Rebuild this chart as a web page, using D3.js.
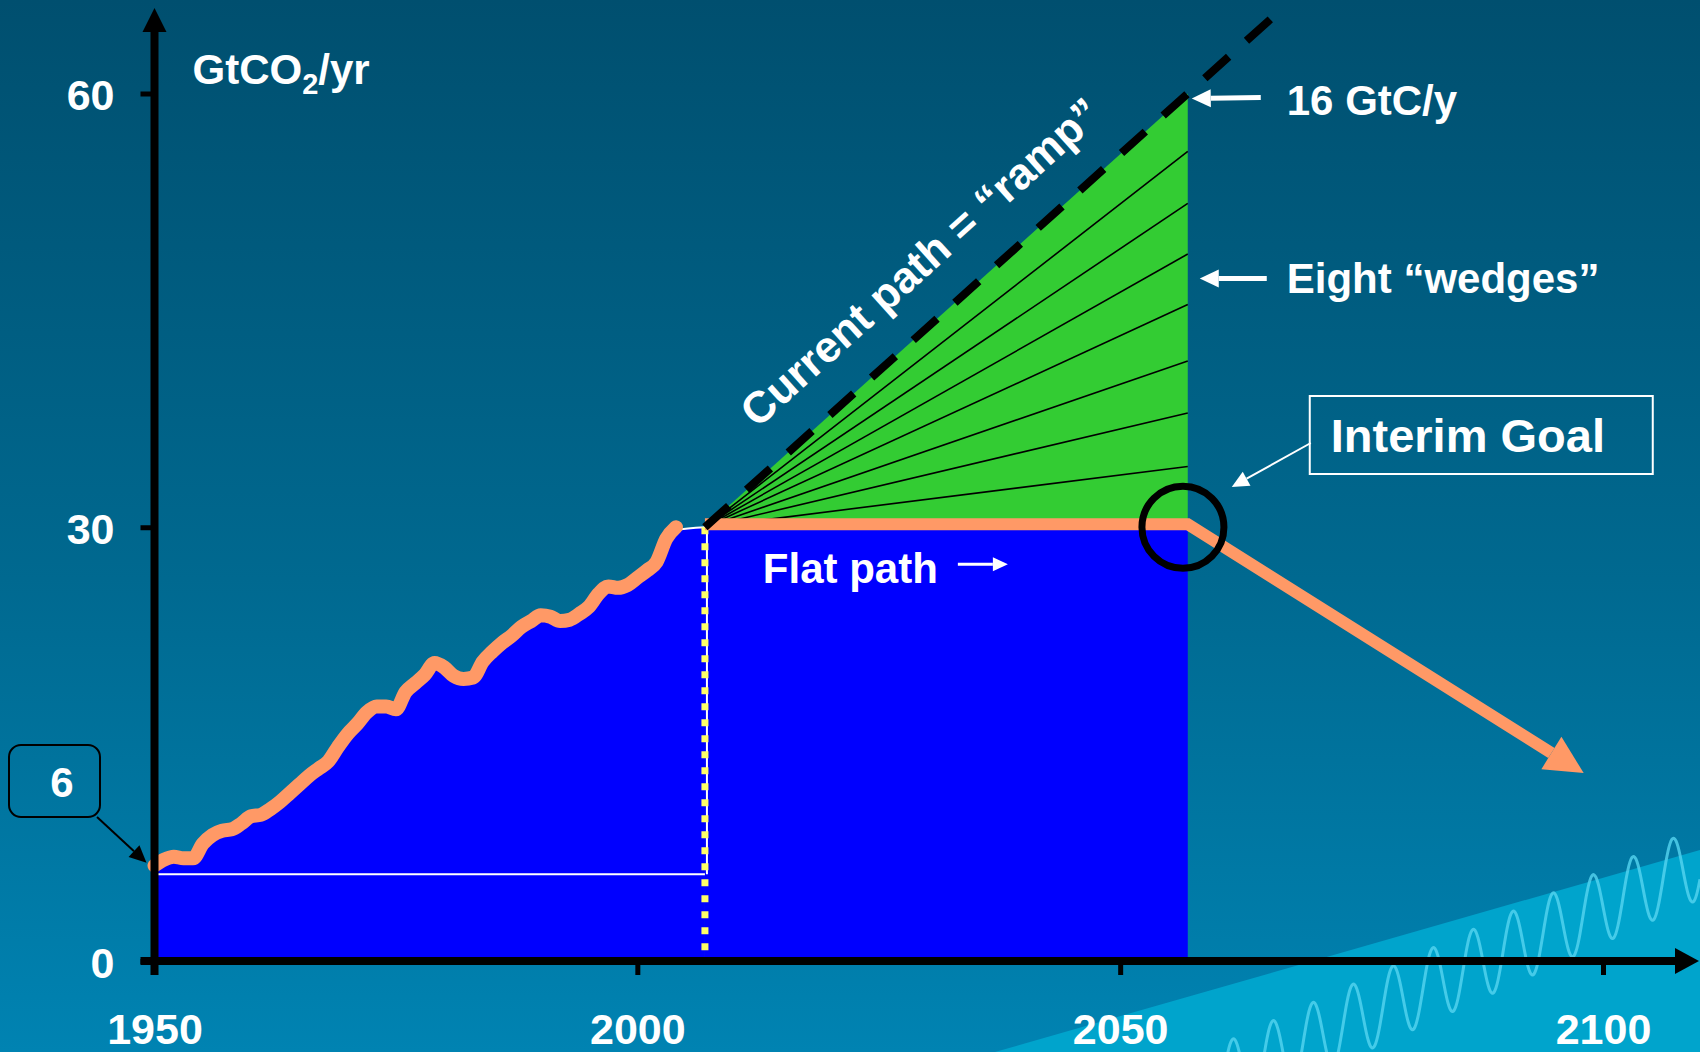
<!DOCTYPE html>

<head>
	<meta charset="utf-8" />
	<style>
		body {
			margin: 0;
			overflow: hidden;
			background-color: #005a7c;
		}

		svg {
			display: block;
			font-family: 'Liberation Sans', Arial, sans-serif;
			font-weight: bold;
		}

		text {
			fill: #fff;
		}
	</style>
</head>

<body>
	<div id="chart-area"></div>

	<script src="https://cdnjs.cloudflare.com/ajax/libs/d3/7.8.5/d3.min.js"></script>

	<script>
		// historical emissions, GtCO2/yr
		var histYears = [
			1950, 1951, 1952, 1953, 1954, 1955, 1956, 1957, 1958, 1959,
			1960, 1961, 1962, 1963, 1964, 1965, 1966, 1967, 1968, 1969,
			1970, 1971, 1972, 1973, 1974, 1975, 1976, 1977, 1978, 1979,
			1980, 1981, 1982, 1983, 1984, 1985, 1986, 1987, 1988, 1989,
			1990, 1991, 1992, 1993, 1994, 1995, 1996, 1997, 1998, 1999,
			2000, 2001, 2002, 2003, 2004,
		];
		var histValues = [
			6.4, 6.8, 7.0, 6.9, 6.9, 7.9, 8.5, 8.8, 8.9, 9.3,
			9.8, 9.9, 10.3, 10.8, 11.4, 12.0, 12.6, 13.1, 13.6, 14.6,
			15.5, 16.2, 17.0, 17.4, 17.4, 17.2, 18.4, 19.0, 19.6, 20.4,
			20.1, 19.5, 19.3, 19.4, 20.5, 21.2, 21.8, 22.3, 22.9, 23.3,
			23.7, 23.6, 23.3, 23.4, 23.8, 24.3, 25.2, 25.7, 25.6, 25.8,
			26.3, 26.8, 27.4, 29.0, 29.8,
		];

		var baseValue = 6;
		var flatYears = [2007, 2057];
		var flatValues = [30, 30];
		var rampYears = [2007, 2066];
		var rampValues = [30, 65.4];
		var wedgeYears = [2007, 2057, 2057];
		var wedgeValues = [30, 60, 30];
		var wedgeLineEnds = [56.0, 52.4, 48.9, 45.4, 41.5, 37.9, 34.2];
		var goalYears = [2057, 2098];
		var goalValues = [30, 13];

		var xTicks = [1950, 2000, 2050, 2100];
		var yTicks = [0, 30, 60];

		var width = 1700,
			height = 1052;

		var x = d3.scaleLinear().domain([1950, 2100]).range([154.5, 1603]);
		var y = d3.scaleLinear().domain([0, 60]).range([961, 93.5]);

		var svg = d3
			.select('#chart-area')
			.append('svg')
			.attr('width', width)
			.attr('height', height);

		var defs = svg.append('defs');
		var bg = defs
			.append('linearGradient')
			.attr('id', 'bg')
			.attr('x1', 0)
			.attr('y1', 0)
			.attr('x2', 0)
			.attr('y2', 1);
		bg.append('stop').attr('offset', '0%').attr('stop-color', '#004f6f');
		bg.append('stop').attr('offset', '55%').attr('stop-color', '#006990');
		bg.append('stop').attr('offset', '100%').attr('stop-color', '#0083b2');

		svg.append('rect')
			.attr('width', width)
			.attr('height', height)
			.attr('fill', 'url(#bg)');

		// template decoration, bottom right
		svg.append('path')
			.attr('d', 'M995,1052L1700,850L1700,1052Z')
			.attr('fill', '#00a4cc');

		var wave = [];
		for (var px = 1150; px <= 1700; px += 2) {
			var cy = 975 - 0.456 * (px - 1453);
			wave.push([px, cy + 37 * Math.sin(((px - 1433) / 40) * 2 * Math.PI - Math.PI / 2)]);
		}
		svg.append('path')
			.attr('d', d3.line().curve(d3.curveBasis)(wave))
			.attr('fill', 'none')
			.attr('stroke', '#55d4f0')
			.attr('stroke-opacity', 0.8)
			.attr('stroke-width', 3);

		var hist = histYears.map((d, i) => ({ year: d, value: histValues[i] }));
		var histEdge = hist.concat([{ year: flatYears[0], value: flatValues[0] }]);

		var line = d3
			.line()
			.x(d => x(d.year))
			.y(d => y(d.value));

		// blue: history
		svg.append('path')
			.datum(histEdge)
			.attr(
				'd',
				d3
					.area()
					.curve(d3.curveMonotoneX)
					.x(d => x(d.year))
					.y0(y(0))
					.y1(d => y(d.value))
			)
			.attr('fill', '#0000ff');

		// blue: flat path
		svg.append('rect')
			.attr('x', x(flatYears[0]))
			.attr('y', y(flatValues[0]))
			.attr('width', x(flatYears[1]) - x(flatYears[0]))
			.attr('height', y(0) - y(flatValues[0]))
			.attr('fill', '#0000ff');

		// green wedges
		svg.append('path')
			.datum(wedgeYears.map((d, i) => ({ year: d, value: wedgeValues[i] })))
			.attr('d', d => line(d) + 'Z')
			.attr('fill', '#33cc33');

		svg.append('g')
			.selectAll('line')
			.data(wedgeLineEnds)
			.join('line')
			.attr('x1', x(wedgeYears[0]))
			.attr('y1', y(wedgeValues[0]))
			.attr('x2', x(wedgeYears[1]))
			.attr('y2', d => y(d))
			.attr('stroke', '#000')
			.attr('stroke-width', 1.6);

		// white outlines
		svg.append('path')
			.datum(histEdge)
			.attr('d', line.curve(d3.curveMonotoneX))
			.attr('fill', 'none')
			.attr('stroke', '#fff')
			.attr('stroke-width', 2);
		line.curve(d3.curveLinear);

		svg.append('line')
			.attr('x1', x(histYears[0]))
			.attr('x2', x(flatYears[0]))
			.attr('y1', y(baseValue))
			.attr('y2', y(baseValue))
			.attr('stroke', '#fff')
			.attr('stroke-width', 2);
		svg.append('line')
			.attr('x1', x(flatYears[0]) + 2)
			.attr('x2', x(flatYears[0]) + 2)
			.attr('y1', y(baseValue))
			.attr('y2', y(flatValues[0]))
			.attr('stroke', '#fff')
			.attr('stroke-width', 2);

		// yellow dotted divider
		svg.append('line')
			.attr('x1', x(flatYears[0]))
			.attr('x2', x(flatYears[0]))
			.attr('y1', y(flatValues[0]))
			.attr('y2', y(0))
			.attr('stroke', '#ffff66')
			.attr('stroke-width', 7)
			.attr('stroke-dasharray', '7,9');

		// orange: history
		svg.append('path')
			.datum(hist)
			.attr('d', d3.line().curve(d3.curveMonotoneX).x(d => x(d.year)).y(d => y(d.value) - 3))
			.attr('fill', 'none')
			.attr('stroke', '#ff9966')
			.attr('stroke-width', 14)
			.attr('stroke-linecap', 'round')
			.attr('stroke-linejoin', 'round');

		// orange: flat path + goal arrow
		var tipX = x(goalYears[1]),
			tipY = y(goalValues[1]);
		var ang = Math.atan2(tipY - y(goalValues[0]), tipX - x(goalYears[0]));
		var headLen = 38,
			headHalf = 19;
		var bx = tipX - headLen * Math.cos(ang),
			by = tipY - headLen * Math.sin(ang);
		svg.append('path')
			.attr(
				'd',
				'M' + x(flatYears[0]) + ',' + (y(flatValues[0]) - 3) +
				'L' + x(flatYears[1]) + ',' + (y(flatValues[1]) - 3) +
				'L' + bx + ',' + by
			)
			.attr('fill', 'none')
			.attr('stroke', '#ff9966')
			.attr('stroke-width', 12);
		svg.append('path')
			.attr(
				'd',
				'M' + tipX + ',' + tipY +
				'L' + (bx - Math.sin(ang) * headHalf) + ',' + (by + Math.cos(ang) * headHalf) +
				'L' + (bx + Math.sin(ang) * headHalf) + ',' + (by - Math.cos(ang) * headHalf) + 'Z'
			)
			.attr('fill', '#ff9966');

		// ramp (dashed)
		svg.append('path')
			.datum(rampYears.map((d, i) => ({ year: d, value: rampValues[i] })))
			.attr('d', line)
			.attr('fill', 'none')
			.attr('stroke', '#000')
			.attr('stroke-width', 8)
			.attr('stroke-dasharray', '32,24');

		// interim goal circle
		svg.append('circle')
			.attr('cx', x(2056.5))
			.attr('cy', y(30))
			.attr('r', 41)
			.attr('fill', 'none')
			.attr('stroke', '#000')
			.attr('stroke-width', 7);

		// axes
		var xAxis = svg
			.append('g')
			.attr('transform', 'translate(0,' + y(0) + ')')
			.call(d3.axisBottom(x).tickValues(xTicks).tickSizeInner(14).tickSizeOuter(0).tickFormat(d3.format('d')));
		xAxis.select('.domain').remove();
		xAxis.selectAll('line').attr('stroke', '#000').attr('stroke-width', 5);
		xAxis.selectAll('text')
			.attr('y', 83)
			.attr('dy', null)
			.attr('fill', '#fff')
			.style('font-size', '43px')
			.style('font-family', "'Liberation Sans', Arial, sans-serif")
			.style('font-weight', 'bold');

		var yAxis = svg
			.append('g')
			.attr('transform', 'translate(' + x(1950) + ',0)')
			.call(d3.axisLeft(y).tickValues(yTicks).tickSizeInner(14).tickSizeOuter(0));
		yAxis.select('.domain').remove();
		yAxis.selectAll('line').attr('stroke', '#000').attr('stroke-width', 5);
		yAxis.selectAll('text')
			.attr('x', -40)
			.attr('y', 16)
			.attr('dy', null)
			.attr('fill', '#fff')
			.style('font-size', '43px')
			.style('font-family', "'Liberation Sans', Arial, sans-serif")
			.style('font-weight', 'bold');

		function arrow(g, x1, y1, x2, y2, w, len, half, color) {
			var a = Math.atan2(y2 - y1, x2 - x1);
			var ex = x2 - len * Math.cos(a),
				ey = y2 - len * Math.sin(a);
			g.append('line')
				.attr('x1', x1)
				.attr('y1', y1)
				.attr('x2', ex)
				.attr('y2', ey)
				.attr('stroke', color)
				.attr('stroke-width', w);
			g.append('path')
				.attr(
					'd',
					'M' + x2 + ',' + y2 +
					'L' + (ex - Math.sin(a) * half) + ',' + (ey + Math.cos(a) * half) +
					'L' + (ex + Math.sin(a) * half) + ',' + (ey - Math.cos(a) * half) + 'Z'
				)
				.attr('fill', color);
		}

		// axis lines with arrow heads
		arrow(svg, x(1950) - 14, y(0), 1699, y(0), 8, 24, 13, '#000');
		arrow(svg, x(1950), y(0) + 14, x(1950), 8, 8, 24, 12, '#000');

		// unit label
		var unit = svg
			.append('text')
			.attr('x', x(1950) + 38)
			.attr('y', y(60) - 10)
			.style('font-size', '42px');
		unit.append('tspan').text('GtCO');
		unit.append('tspan').attr('dy', 10).style('font-size', '29px').text('2');
		unit.append('tspan').attr('dy', -10).text('/yr');

		// "6" call-out
		svg.append('rect')
			.attr('x', 9)
			.attr('y', 745)
			.attr('width', 91)
			.attr('height', 72)
			.attr('rx', 12)
			.attr('fill', 'none')
			.attr('stroke', '#000')
			.attr('stroke-width', 2);
		svg.append('text')
			.attr('x', 62)
			.attr('y', 797)
			.attr('text-anchor', 'middle')
			.style('font-size', '42px')
			.text(baseValue);
		arrow(svg, 97, 817, x(1950) - 8, y(6.8), 2, 17, 8, '#000');

		// ramp label
		var rampAngle = (Math.atan2(y(60) - y(30), x(2057) - x(2007)) * 180) / Math.PI;
		svg.append('text')
			.attr(
				'transform',
				'translate(' + x(2033) + ',' + y(30 + 0.6 * 26) + ') rotate(' + rampAngle + ')'
			)
			.attr('y', -38)
			.attr('text-anchor', 'middle')
			.style('font-size', '44px')
			.text('Current path = \u201Cramp\u201D');

		// right-hand annotations
		var xr = x(2057);
		arrow(svg, xr + 73, y(60) + 4, xr + 4, y(60) + 5, 5, 19, 9, '#fff');
		svg.append('text')
			.attr('x', xr + 99)
			.attr('y', y(60) + 21)
			.style('font-size', '42px')
			.text('16 GtC/y');

		arrow(svg, xr + 79, y(47.2), xr + 12, y(47.2), 5, 19, 9, '#fff');
		svg.append('text')
			.attr('x', xr + 99)
			.attr('y', y(47.2) + 14)
			.style('font-size', '42px')
			.text('Eight \u201Cwedges\u201D');

		svg.append('rect')
			.attr('x', xr + 122)
			.attr('y', 396)
			.attr('width', 343)
			.attr('height', 78)
			.attr('fill', 'none')
			.attr('stroke', '#fff')
			.attr('stroke-width', 2);
		svg.append('text')
			.attr('x', xr + 143)
			.attr('y', 452)
			.style('font-size', '47px')
			.text('Interim Goal');
		arrow(svg, xr + 123, 443, xr + 44, 487, 2, 17, 8, '#fff');

		// flat path label
		svg.append('text')
			.attr('x', x(2013))
			.attr('y', y(30) + 56)
			.style('font-size', '42px')
			.text('Flat path');
		arrow(svg, x(2013) + 195, y(30) + 37, x(2013) + 245, y(30) + 37, 3, 15, 7, '#fff');
	</script>
</body>
